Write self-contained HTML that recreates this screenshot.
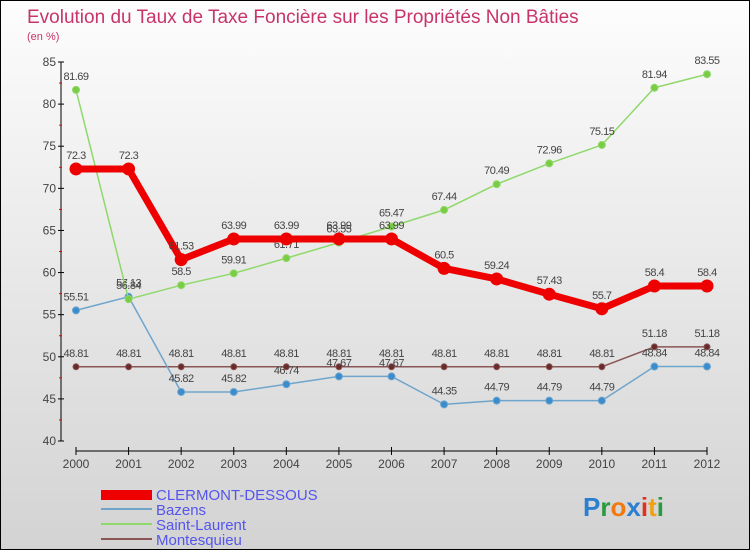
<!DOCTYPE html>
<html><head><meta charset="utf-8"><style>
body{margin:0}
#c{width:750px;height:550px;position:relative;box-sizing:border-box;border:1px solid #000;background:linear-gradient(#fdfdfd,#d3d3d3);font-family:"Liberation Sans",sans-serif;overflow:hidden}
</style></head><body>
<div id="c">
<svg id="s" width="750" height="550" style="position:absolute;left:0;top:0">
<text x="26" y="22" font-size="19" fill="#c8346a">Evolution du Taux de Taxe Foncière sur les Propriétés Non Bâties</text>
<text x="26" y="39" font-size="11" fill="#c8346a">(en %)</text>
<g id="ax"></g><g id="series"></g>
<g>
<rect x="100" y="489" width="51" height="10" fill="#e00"/>
<text x="155" y="499" font-size="15" fill="#5555ee">CLERMONT-DESSOUS</text>
<line x1="100" y1="508" x2="151" y2="508" stroke="#6fa5cc" stroke-width="2"/>
<text x="155" y="514" font-size="15" fill="#5555ee">Bazens</text>
<line x1="100" y1="523" x2="151" y2="523" stroke="#8fd86a" stroke-width="2"/>
<text x="155" y="529" font-size="15" fill="#5555ee">Saint-Laurent</text>
<line x1="100" y1="538" x2="151" y2="538" stroke="#8a5555" stroke-width="2"/>
<text x="155" y="544" font-size="15" fill="#5555ee">Montesquieu</text>
</g>
<text x="582" y="515" font-size="26" font-weight="bold"><tspan fill="#2a7fd0">P</tspan><tspan fill="#2a9a40">r</tspan><tspan fill="#f07a10">o</tspan><tspan fill="#2a7fd0">x</tspan><tspan fill="#e03020">i</tspan><tspan fill="#f0a010">t</tspan><tspan fill="#2a9a40">i</tspan></text>
</svg>
</div>
<script>
const years=[2000,2001,2002,2003,2004,2005,2006,2007,2008,2009,2010,2011,2012];
const clermont=[72.3,72.3,61.53,63.99,63.99,63.99,63.99,60.5,59.24,57.43,55.7,58.4,58.4];
const bazens=[55.51,57.13,45.82,45.82,46.74,47.67,47.67,44.35,44.79,44.79,44.79,48.84,48.84];
const saintLaurent=[81.69,56.84,58.5,59.91,61.71,63.55,65.47,67.44,70.49,72.96,75.15,81.94,83.55];
const montesquieu=[48.81,48.81,48.81,48.81,48.81,48.81,48.81,48.81,48.81,48.81,48.81,51.18,51.18];
const yTicks=[40,45,50,55,60,65,70,75,80,85];
const NS="http://www.w3.org/2000/svg";
const X=i=>75+i*(706-75)/12;
const Y=v=>61+(85-v)*(440-61)/45;
function mk(t,a,p){const e=document.createElementNS(NS,t);for(const k in a)e.setAttribute(k,a[k]);p.appendChild(e);return e;}
const ax=document.getElementById('ax');
mk('line',{x1:60,y1:Y(85),x2:60,y2:Y(40),stroke:'#000'},ax);
mk('line',{x1:X(0),y1:450,x2:X(12),y2:450,stroke:'#000'},ax);
yTicks.forEach(v=>{
 mk('line',{x1:57,y1:Y(v),x2:63,y2:Y(v),stroke:'#000'},ax);
 const t=mk('text',{x:55,y:Y(v)+4,'font-size':12,'text-anchor':'end',fill:'#444'},ax);t.textContent=v;
 
 
 if(v<85)mk('line',{x1:58,y1:Y(v+2.5),x2:61,y2:Y(v+2.5),stroke:'#e00'},ax);
});
years.forEach((y,i)=>{
 mk('line',{x1:X(i),y1:446,x2:X(i),y2:454,stroke:'#000'},ax);
 const t=mk('text',{x:X(i),y:467,'font-size':12,'text-anchor':'middle',fill:'#444'},ax);t.textContent=y;
 
 
});
const sg=document.getElementById('series');
function draw(name,vals,col,w,r,dot){
 const g=mk('g',{},sg);
 
 
 mk('polyline',{points:vals.map((v,i)=>X(i)+','+Y(v)).join(' '),fill:'none',stroke:col,'stroke-width':w,'stroke-linejoin':'round'},g);
 vals.forEach((v,i)=>{
  const c=mk('circle',{cx:X(i),cy:Y(v),r:r,fill:dot,stroke:col,'stroke-width':1},g);
  
  
  const t=mk('text',{x:X(i),y:Y(v)-10,'font-size':11,'text-anchor':'middle',fill:'#444','letter-spacing':'-0.5'},g);t.textContent=v;
  
  
 });
}
draw('montesquieu',montesquieu,'#8a5555',1.5,3,'#6a2a2a');
draw('bazens',bazens,'#6fa5cc',1.5,3.5,'#3a8ccc');
draw('saint-laurent',saintLaurent,'#8fd86a',1.5,3.5,'#7acc44');
draw('clermont',clermont,'#ee0000',7,6,'#ee0000');
</script>
</body></html>
